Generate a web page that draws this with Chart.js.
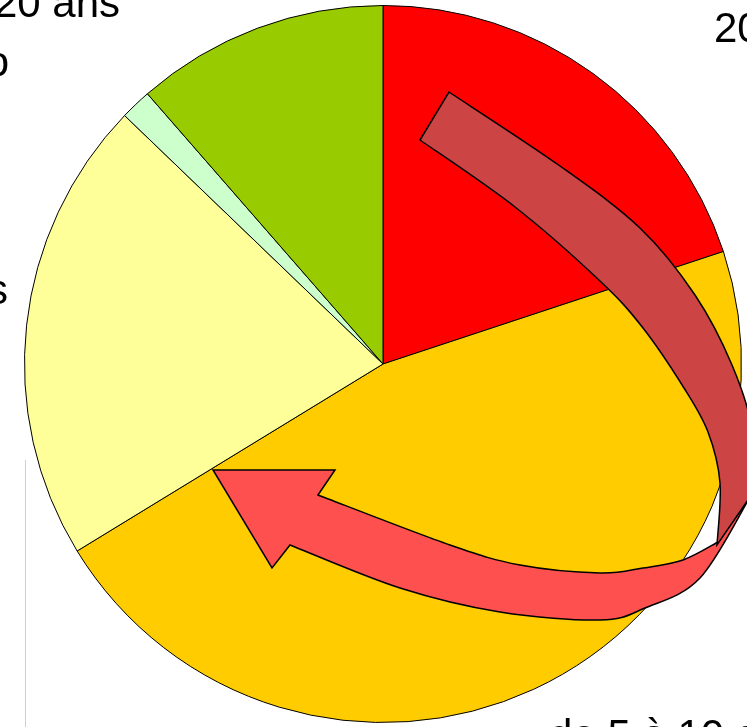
<!DOCTYPE html>
<html>
<head>
<meta charset="utf-8">
<script src="https://cdn.jsdelivr.net/npm/chart.js@4.4.1/dist/chart.umd.min.js"></script>
<style>
    html, body { margin: 0; padding: 0; background: #fff; overflow: hidden; }
    .wrap { position: relative; width: 747px; height: 727px; overflow: hidden; }
    canvas { position: absolute; left: 0; top: 0; }
    .lbl {
        position: absolute;
        font-family: "Liberation Sans", Arial, sans-serif;
        font-size: 42px;
        line-height: 1;
        color: #000;
        white-space: nowrap;
    }
    .vline { position: absolute; left: 25px; top: 460px; width: 1px; height: 267px; background: #cfcfcf; }
</style>
</head>
<body>
<div class="wrap">
    <div class="vline"></div>
    <canvas id="pieChart" width="747" height="727"></canvas>
    <div class="lbl" id="lbl-0" style="left:714px; top:7px;"></div>
    <div class="lbl" id="lbl-1" style="left:549px; top:714px;"></div>
    <div class="lbl" id="lbl-2" style="right:739px; top:269px; text-align:right;"></div>
    <div class="lbl" id="lbl-3" style="right:738px; top:41px; text-align:right;"></div>
    <div class="lbl" id="lbl-4" style="right:627px; top:-18px; text-align:right;"></div>
</div>
<script>
// categories and shares (%), clockwise from 12 o'clock
const categories = ['20 ans et plus', 'de 5 à 10 ans', 'moins de 5 ans', 'Contrat pro', 'de 10 à 20 ans'];
const shares = [19.9, 46.3, 20.9, 1.4, 11.4];
const sliceColors = ['#FF0000', '#FFCC00', '#FFFF99', '#CCFFCC', '#99CC00'];

// labels as html text
categories.forEach((c, i) => {
    document.getElementById('lbl-' + i).textContent = c;
});

// smooth curve through a list of points (catmull-rom)
function curveThrough(ctx, pts) {
    for (let i = 0; i < pts.length - 1; i++) {
        const p0 = pts[i - 1] || pts[i];
        const p1 = pts[i];
        const p2 = pts[i + 1];
        const p3 = pts[i + 2] || pts[i + 1];
        ctx.bezierCurveTo(
            p1[0] + (p2[0] - p0[0]) / 6, p1[1] + (p2[1] - p0[1]) / 6,
            p2[0] - (p3[0] - p1[0]) / 6, p2[1] - (p3[1] - p1[1]) / 6,
            p2[0], p2[1]
        );
    }
}

// decorative curved arrow drawn over the pie
const arrowPlugin = {
    id: 'curvedArrow',
    afterDatasetsDraw(chart) {
        const ctx = chart.ctx;
        ctx.save();
        ctx.lineWidth = 1.5;
        ctx.strokeStyle = '#000';
        ctx.lineJoin = 'miter';

        // front part with the head
        ctx.beginPath();
        ctx.moveTo(718, 542);
        curveThrough(ctx, [[718, 542], [683, 560], [643, 568], [600, 573], [520, 565], [450, 545], [318, 495]]);
        ctx.lineTo(335, 470);
        ctx.lineTo(213, 470);
        ctx.lineTo(272, 568);
        ctx.lineTo(290, 545);
        curveThrough(ctx, [[290, 545], [400, 588], [500, 612], [600, 620], [645, 608], [700, 578], [750, 497]]);
        ctx.closePath();
        ctx.fillStyle = '#FF5050';
        ctx.fill();
        ctx.stroke();

        // back part
        ctx.beginPath();
        ctx.moveTo(420, 140);
        ctx.lineTo(449, 92);
        curveThrough(ctx, [[449, 92], [560, 166], [640, 228], [695, 295], [732, 365], [752, 430], [750, 497]]);
        ctx.lineTo(717, 545);
        curveThrough(ctx, [[717, 545], [720, 483], [708, 432], [684, 388], [643, 328], [600, 281], [515, 207], [420, 140]]);
        ctx.closePath();
        ctx.fillStyle = '#CC4444';
        ctx.fill();
        ctx.stroke();

        ctx.restore();
    }
};

const pieCtx = document.getElementById('pieChart').getContext('2d');
const pieChart = new Chart(pieCtx, {
    type: 'pie',
    data: {
        labels: categories,
        datasets: [{
            data: shares,
            backgroundColor: sliceColors,
            borderColor: '#000000',
            borderWidth: 1
        }]
    },
    options: {
        responsive: false,
        animation: false,
        layout: {
            padding: { left: 24, top: 5, right: 5, bottom: 4 }
        },
        plugins: {
            legend: { display: false },
            tooltip: { enabled: false }
        }
    },
    plugins: [arrowPlugin]
});
</script>
</body>
</html>
